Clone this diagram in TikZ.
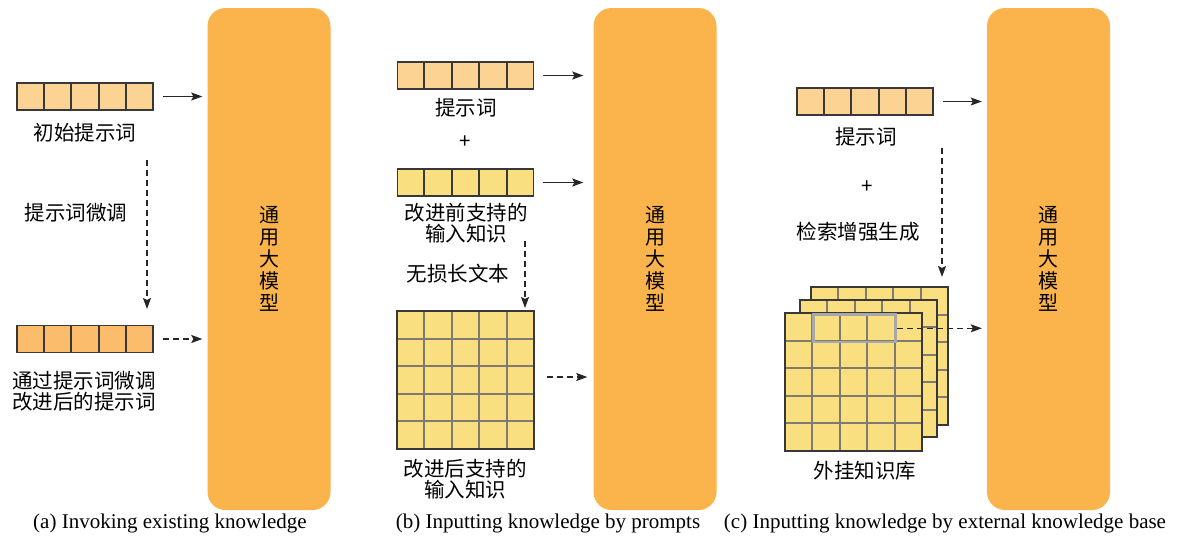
\documentclass[tikz,border=0pt]{standalone}
\usepackage{fontspec}
\setmainfont{Liberation Serif}
\newfontfamily\cjk{Noto Sans CJK SC}
\usetikzlibrary{arrows.meta,calc}
\definecolor{bigorange}{HTML}{FBB34C}
\definecolor{lightorange}{HTML}{FDD393}
\definecolor{darkorange}{HTML}{FBBD6B}
\definecolor{softyellow}{HTML}{F9DF7F}
\definecolor{celldark}{HTML}{383838}
\definecolor{gridgray}{HTML}{7E7C70}
\definecolor{hlgray}{HTML}{A8A8A8}
\tikzset{
  bigbox/.style={fill=bigorange, rounded corners=18pt, minimum width=123pt, minimum height=502pt, inner sep=0pt, font=\cjk\fontsize{20}{22}\selectfont, align=center},
  stripbox/.style={draw=celldark, line width=1.6pt, minimum width=136pt, minimum height=27pt, inner sep=0pt},
  gridbox/.style={fill=softyellow, minimum width=137pt, minimum height=137pt, inner sep=0pt},
  cellline/.style={draw=celldark, line width=1.6pt},
  gridline/.style={draw=gridgray, line width=1.8pt},
  lbl/.style={font=\cjk\fontsize{20.5}{21}\selectfont, align=center, inner sep=0pt},
  captext/.style={font=\fontsize{21}{24}\selectfont, inner sep=0pt},
  arr/.style={-{Stealth[length=11pt,width=8pt,inset=2pt]}, line width=1.3pt, black!85},
  darr/.style={arr, dash pattern=on 6pt off 4pt},
}
\newcommand\stripcells[1]{%
  \foreach \k in {1,...,4}{\draw[cellline] ($(#1.north west)!\k/5!(#1.north east)$) -- ($(#1.south west)!\k/5!(#1.south east)$);}}
\newcommand\gridcells[1]{%
  \foreach \k in {1,...,4}{%
    \draw[gridline] ($(#1.north west)!\k/5!(#1.north east)$) -- ($(#1.south west)!\k/5!(#1.south east)$);
    \draw[gridline] ($(#1.north west)!\k/5!(#1.south west)$) -- ($(#1.north east)!\k/5!(#1.south east)$);}
  \draw[draw=celldark, line width=1.8pt] (#1.north west) rectangle (#1.south east);}
\begin{document}
\begin{tikzpicture}[x=1pt,y=-1pt]
\useasboundingbox (0,0) rectangle (1182,538);
% big boxes
\node[bigbox] (bA) at (269,259) {通\\用\\大\\模\\型};
\node[bigbox] (bB) at (655,259) {通\\用\\大\\模\\型};
\node[bigbox] (bC) at (1048.5,259) {通\\用\\大\\模\\型};
% ---------- panel (a)
\node[stripbox, fill=lightorange] (a1) at (85,96.5) {};
\stripcells{a1}
\node[lbl] (a1t) at (85,133) {初始提示词};
\node[lbl] (a2t) at (76,213) {提示词微调};
\node[stripbox, fill=darkorange] (a2) at (85,339) {};
\stripcells{a2}
\node[lbl, align=left, anchor=west] (a3t) at (12,391) {通过提示词微调\\改进后的提示词};
\coordinate (aTop) at (147,160);
\coordinate (aBot) at (147,309);
\draw[darr] (aTop) -- (aBot);
\draw[arr, shorten >=5pt] ($(a1.east)+(9,0)$) -- (bA.west |- a1.east);
\draw[darr, shorten >=5pt] ($(a2.east)+(9,0)$) -- (bA.west |- a2.east);
% ---------- panel (b)
\node[stripbox, fill=lightorange] (b1) at (465.5,75.5) {};
\stripcells{b1}
\node[lbl] (b1t) at (466,108) {提示词};
\node[lbl] (bplus) at (465,142) {+};
\node[stripbox, fill=softyellow] (b2) at (465.5,182.5) {};
\stripcells{b2}
\node[lbl] (b2t) at (466,223) {改进前支持的\\输入知识};
\node[lbl] (b3t) at (458,274) {无损长文本};
\node[gridbox] (b3) at (465.5,380) {};
\gridcells{b3}
\node[lbl] (b4t) at (465,479) {改进后支持的\\输入知识};
\coordinate (bTop) at (525,241);
\coordinate (bBot) at (525,308);
\draw[darr] (bTop) -- (bBot);
\draw[arr, shorten >=10pt] ($(b1.east)+(9,0)$) -- (bB.west |- b1.east);
\draw[arr, shorten >=10pt] ($(b2.east)+(9,0)$) -- (bB.west |- b2.east);
\coordinate (b3r) at ($(b3.east)+(13,-3)$);
\draw[darr, shorten >=6pt] (b3r) -- (bB.west |- b3r);
% ---------- panel (c)
\node[stripbox, fill=lightorange] (c1) at (865,101.5) {};
\stripcells{c1}
\node[lbl] (c1t) at (866,137) {提示词};
\node[lbl] (cplus) at (867,187) {+};
\node[lbl] (c2t) at (858,232) {检索增强生成};
\coordinate (cTop) at (942,148);
\coordinate (cBot) at (942,277);
\draw[darr] (cTop) -- (cBot);
\node[gridbox] (g3) at (879.5,356) {};
\gridcells{g3}
\node[gridbox] (g2) at (868.5,368.5) {};
\gridcells{g2}
\node[gridbox] (g1) at (853.5,382) {};
\gridcells{g1}
\node[draw=hlgray, line width=2.6pt, minimum width=82.2pt, minimum height=27.4pt, inner sep=0pt, anchor=north west] (hl) at ($(g1.north west)+(27.4,0)$) {};
\node[lbl] (c3t) at (865,471) {外挂知识库};
\draw[arr, shorten >=5pt] ($(c1.east)+(9,0)$) -- (bC.west |- c1.east);
\draw[darr, shorten >=5pt] (hl.east) -- (bC.west |- hl.east);
% captions
\node[captext] (capA) at (170,523) {(a) Invoking existing knowledge};
\node[captext] (capB) at (548,523) {(b) Inputting knowledge by prompts};
\node[captext] (capC) at (945,523) {(c) Inputting knowledge by external knowledge base};
\end{tikzpicture}
\end{document}
